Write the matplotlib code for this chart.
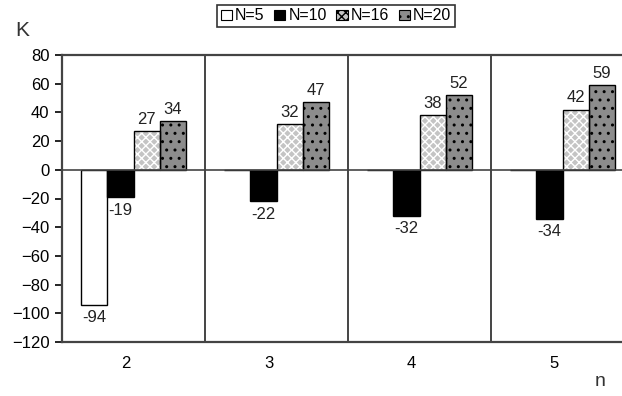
import matplotlib.pyplot as plt
import matplotlib.transforms as mtransforms
from matplotlib.patches import Patch
import numpy as np

plt.rcParams['font.family'] = ['Liberation Sans', 'DejaVu Sans']

categories = ['2', '3', '4', '5']
series_names = ['N=5', 'N=10', 'N=16', 'N=20']
values = {
    'N=5': [-94, 0, 0, 0],
    'N=10': [-19, -22, -32, -34],
    'N=16': [27, 32, 38, 42],
    'N=20': [34, 47, 52, 59],
}
yticks = [80, 60, 40, 20, 0, -20, -40, -60, -80, -100, -120]

styles = {
    'N=5': dict(face='white', hatch=None, hcol='black'),
    'N=10': dict(face='black', hatch=None, hcol='black'),
    'N=16': dict(face='#c4c4c4', hatch='xxxx', hcol='white'),
    'N=20': dict(face='#8c8c8c', hatch='..', hcol='black'),
}

fig = plt.figure(figsize=(6.22, 3.96), dpi=100)
# axes run a bit past the right edge of the picture, as in the reference
ax = fig.add_axes([62 / 622, 1 - 342 / 396, 572 / 622, 287 / 396])

x = np.arange(len(categories))
width = 0.183
offsets = (np.arange(4) - 1.5) * width

for i, name in enumerate(series_names):
    st = styles[name]
    vals = values[name]
    xs = x + offsets[i]
    # face + hatch layer, then outline on top
    ax.bar(xs, vals, width, color=st['face'], edgecolor=st['hcol'],
           hatch=st['hatch'], linewidth=0, zorder=3)
    ax.bar(xs, vals, width, facecolor='none', edgecolor='black',
           linewidth=1.0, zorder=4)
    for xi, v in zip(xs, vals):
        if v == 0:
            continue
        if v > 0:
            ax.annotate(str(v), (xi, v), xytext=(0, 3), textcoords='offset points',
                        ha='center', va='bottom', fontsize=12, color='#222222')
        else:
            ax.annotate(str(v), (xi, v), xytext=(0, -4), textcoords='offset points',
                        ha='center', va='top', fontsize=12, color='#222222')

ax.axhline(0, color='#444444', lw=1.2, zorder=5)
for b in [0.5, 1.5, 2.5]:
    ax.axvline(b, color='#444444', lw=1.4, zorder=2)

ax.set_xlim(-0.5, 3.5)
ax.set_ylim(-120, 80)
ax.set_yticks(yticks)
ax.set_xticks(x)
ax.set_xticklabels(categories)
ax.tick_params(axis='x', length=0, pad=10, labelsize=12)
ax.tick_params(axis='y', direction='out', length=5, width=1.2, labelsize=12, pad=4)
shift = mtransforms.ScaledTranslation(-8 / 100, 0, fig.dpi_scale_trans)
for lab in ax.get_xticklabels():
    lab.set_transform(lab.get_transform() + shift)

for side in ['left', 'top', 'bottom']:
    ax.spines[side].set_color('#444444')
    ax.spines[side].set_linewidth(1.6)
ax.spines['right'].set_visible(False)

fig.text(15 / 622, 1 - 30 / 396, 'K', fontsize=15, ha='left', va='center', color='#333333')
fig.text(600 / 622, 1 - 382 / 396, 'n', fontsize=14, ha='center', va='center', color='#333333')

handles = [Patch(facecolor=styles[n]['face'], edgecolor='black',
                 hatch=styles[n]['hatch'], linewidth=0.8) for n in series_names]
leg = fig.legend(handles, series_names, loc='center', bbox_to_anchor=(336 / 622, 1 - 16 / 396),
                 ncol=4, frameon=True, fancybox=False, edgecolor='black',
                 fontsize=11.5, handlelength=0.7, handleheight=0.6, handletextpad=0.2,
                 columnspacing=0.6, borderpad=0.2, borderaxespad=0)
leg.get_frame().set_linewidth(1.2)

fig.savefig('out.png', dpi=100)
